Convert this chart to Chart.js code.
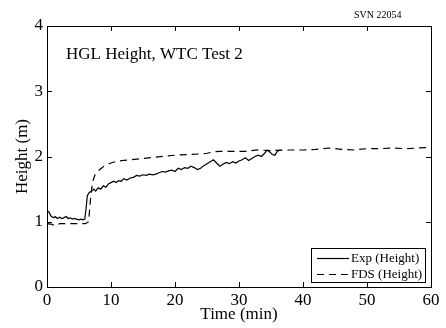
<!DOCTYPE html>
<html>
<head>
<meta charset="utf-8">
<script src="https://cdn.jsdelivr.net/npm/chart.js@4/dist/chart.umd.min.js"></script>
<style>
  body { margin: 0; background: #fff; }
  canvas { display: block; }
</style>
</head>
<body>
<canvas id="hgl" width="446" height="328"></canvas>
<script>
// experiment (solid)
var expTime = [0, 0.3, 0.6, 1.0, 1.3, 1.6, 2.0, 2.3, 2.6, 3.0, 3.3, 3.6, 4.0, 4.3, 4.6, 5.0, 5.3, 5.6, 5.9,
    6.1, 6.3, 6.6, 7.0, 7.3, 7.6, 8.0, 8.4, 8.8, 9.2, 9.6, 10.0, 10.4, 10.8, 11.2, 11.6, 12.0, 12.5,
    13.0, 13.5, 14.0, 14.5, 15.0, 15.5, 16.0, 16.5, 17.0, 17.5, 18.0, 18.5, 19.0, 19.5, 20.0, 20.5,
    21.0, 21.5, 22.0, 22.5, 23.0, 23.5, 24.0, 24.5, 25.0, 25.5, 26.0, 26.5, 27.0, 27.5, 28.0, 28.5,
    29.0, 29.5, 30.0, 30.5, 31.0, 31.5, 32.0, 32.5, 33.0, 33.5, 34.0, 34.4, 34.8, 35.2, 35.6, 36.0, 36.5];
var expHeight = [1.17, 1.15, 1.09, 1.06, 1.08, 1.05, 1.07, 1.05, 1.06, 1.08, 1.05, 1.06, 1.04, 1.05, 1.04, 1.03, 1.04, 1.03, 1.04,
    1.20, 1.40, 1.45, 1.47, 1.50, 1.47, 1.52, 1.50, 1.55, 1.53, 1.58, 1.60, 1.62, 1.60, 1.63, 1.62, 1.66, 1.64,
    1.67, 1.68, 1.71, 1.70, 1.72, 1.71, 1.73, 1.72, 1.73, 1.75, 1.77, 1.76, 1.78, 1.79, 1.77, 1.82,
    1.80, 1.83, 1.82, 1.85, 1.83, 1.80, 1.82, 1.86, 1.89, 1.92, 1.95, 1.90, 1.85, 1.88, 1.91, 1.89,
    1.92, 1.90, 1.93, 1.95, 1.98, 1.94, 1.97, 2.00, 2.02, 2.00, 2.05, 2.10, 2.07, 2.03, 2.02, 2.08, 2.10];

// model (dashed)
var fdsTime = [0, 0.8, 1.2, 2, 3, 4, 5, 6, 6.5, 6.8, 7.1, 7.5, 8, 8.5, 9, 10, 11, 12, 13, 15, 17, 20, 22, 24,
    25, 26, 27, 29, 31, 33, 35, 37, 40, 42, 44, 46, 48, 50, 52, 54, 56, 58, 60];
var fdsHeight = [0.97, 0.96, 0.94, 0.97, 0.97, 0.97, 0.97, 0.97, 1.00, 1.35, 1.60, 1.72, 1.78, 1.82, 1.86, 1.90, 1.93, 1.94, 1.95, 1.97, 1.99, 2.02, 2.03, 2.04,
    2.05, 2.07, 2.08, 2.08, 2.08, 2.10, 2.09, 2.10, 2.10, 2.11, 2.13, 2.11, 2.10, 2.12, 2.12, 2.13, 2.12, 2.13, 2.14];

var seriesLabels = ["Exp (Height)", "FDS (Height)"];
var plotTitle = "HGL Height, WTC Test 2";
var cornerNote = "SVN 22054";
var xTitle = "Time (min)";
var yTitle = "Height (m)";

(function(){

    var SERIF = "'Liberation Serif', 'Times New Roman', serif";
    var DASH = [7, 5];

    function _pairs(xs, ys){
        let out = [];
        for(let i = 0; i < xs.length; i++){
            out.push({x: xs[i], y: ys[i]});
        }
        return out;
    }

    // frame, inward tick marks, title, note and legend box
    var _decorations = {
        id: "decorations",
        afterDraw: function(chart){
            let ctx = chart.ctx;
            let area = chart.chartArea;
            let xs = chart.scales.x;
            let ys = chart.scales.y;
            let tl = 5;

            ctx.save();
            ctx.strokeStyle = "#000";
            ctx.lineWidth = 1;
            ctx.strokeRect(Math.round(area.left) + 0.5, Math.round(area.top) + 0.5,
                Math.round(area.right - area.left), Math.round(area.bottom - area.top));

            ctx.beginPath();
            xs.ticks.forEach(function(t){
                let px = Math.round(xs.getPixelForValue(t.value)) + 0.5;
                ctx.moveTo(px, area.bottom); ctx.lineTo(px, area.bottom - tl);
                ctx.moveTo(px, area.top); ctx.lineTo(px, area.top + tl);
            });
            ys.ticks.forEach(function(t){
                let py = Math.round(ys.getPixelForValue(t.value)) + 0.5;
                ctx.moveTo(area.left, py); ctx.lineTo(area.left + tl, py);
                ctx.moveTo(area.right, py); ctx.lineTo(area.right - tl, py);
            });
            ctx.stroke();

            ctx.fillStyle = "#000";
            ctx.textBaseline = "alphabetic";
            ctx.textAlign = "left";
            ctx.font = "17px " + SERIF;
            ctx.fillText(plotTitle, 66, 59);

            ctx.font = "10px " + SERIF;
            ctx.fillText(cornerNote, 354, 18);

            // legend
            let bx = 311, by = 248, bw = 114, bh = 34;
            ctx.fillStyle = "#fff";
            ctx.fillRect(bx, by, bw, bh);
            ctx.strokeRect(bx + 0.5, by + 0.5, bw, bh);
            ctx.fillStyle = "#000";
            ctx.font = "13px " + SERIF;
            let rows = [258, 274];
            for(let i = 0; i < rows.length; i++){
                ctx.lineWidth = 1.2;
                ctx.setLineDash(i === 0 ? [] : DASH);
                ctx.beginPath();
                ctx.moveTo(317, rows[i] + 0.5);
                ctx.lineTo(349, rows[i] + 0.5);
                ctx.stroke();
                ctx.setLineDash([]);
                ctx.textBaseline = "middle";
                ctx.fillText(seriesLabels[i], 351, rows[i] + 1);
            }
            ctx.restore();
        }
    };

    function _drawChart(){
        new Chart(document.getElementById("hgl").getContext("2d"), {
            type: "line",
            data: {
                datasets: [
                    {
                        label: seriesLabels[0],
                        data: _pairs(expTime, expHeight),
                        borderColor: "#000",
                        borderWidth: 1.2,
                        pointRadius: 0,
                        tension: 0
                    },
                    {
                        label: seriesLabels[1],
                        data: _pairs(fdsTime, fdsHeight),
                        borderColor: "#000",
                        borderWidth: 1.2,
                        borderDash: DASH,
                        pointRadius: 0,
                        tension: 0
                    }
                ]
            },
            options: {
                responsive: false,
                animation: false,
                devicePixelRatio: 1,
                layout: { padding: { top: 26, right: 15, left: 0, bottom: 0 } },
                plugins: {
                    legend: { display: false },
                    tooltip: { enabled: false }
                },
                scales: {
                    x: {
                        type: "linear",
                        min: 0,
                        max: 60,
                        afterFit: function(scale){ scale.height = 41; },
                        grid: { display: false, drawTicks: false },
                        border: { display: false },
                        ticks: {
                            stepSize: 10,
                            padding: 3,
                            color: "#000",
                            maxRotation: 0,
                            font: { family: SERIF, size: 17 }
                        },
                        title: {
                            display: true,
                            text: xTitle,
                            color: "#000",
                            padding: { top: 0, bottom: 3 },
                            font: { family: SERIF, size: 17 }
                        }
                    },
                    y: {
                        min: 0,
                        max: 4,
                        afterFit: function(scale){ scale.width = 47; },
                        grid: { display: false, drawTicks: false },
                        border: { display: false },
                        ticks: {
                            stepSize: 1,
                            padding: 4,
                            color: "#000",
                            font: { family: SERIF, size: 17 }
                        },
                        title: {
                            display: true,
                            text: yTitle,
                            color: "#000",
                            padding: { top: 12, bottom: 0 },
                            font: { family: SERIF, size: 17 }
                        }
                    }
                }
            },
            plugins: [_decorations]
        });
    }

    window.onload = function(){
        _drawChart();
    };

})();
</script>
</body>
</html>
